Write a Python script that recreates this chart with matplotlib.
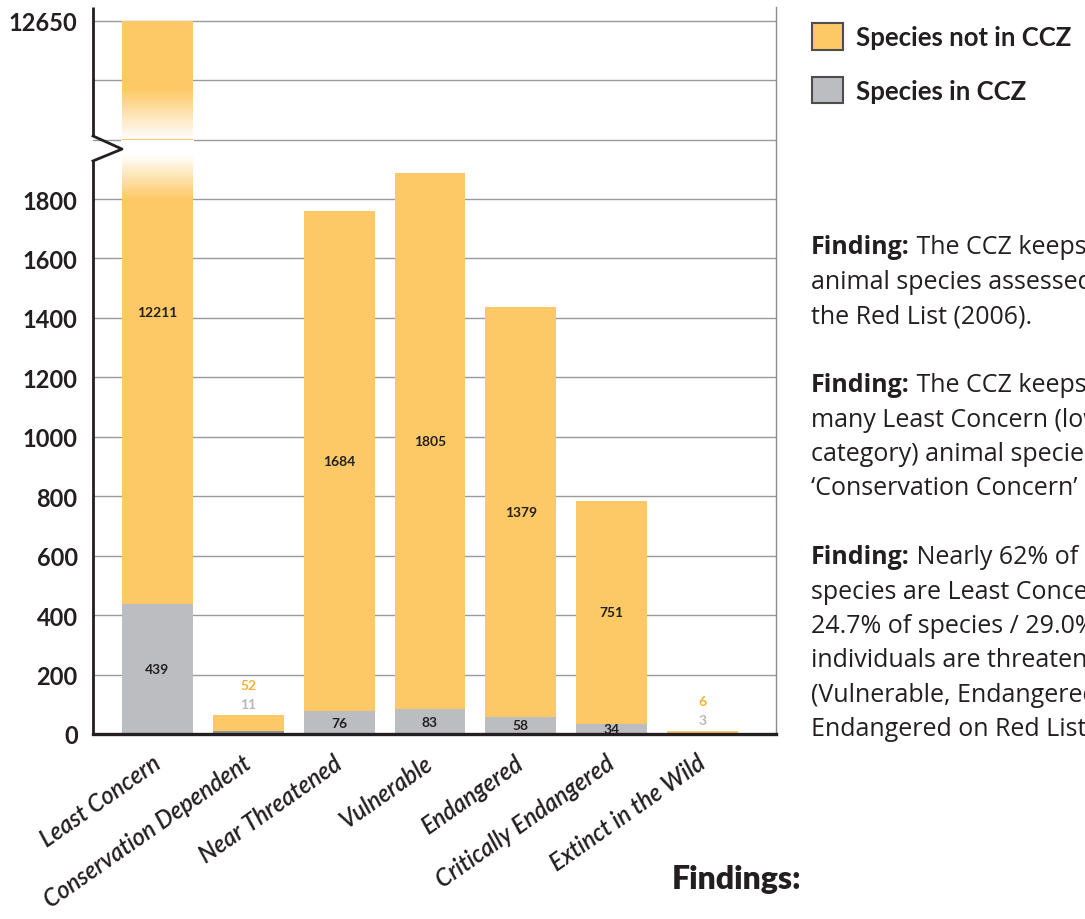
import numpy as np
import matplotlib.pyplot as plt
from matplotlib.patches import Patch
from matplotlib.transforms import ScaledTranslation

# IUCN Red List categories, animal species kept / not kept in the CCZ
categories = ["Least Concern", "Conservation Dependent", "Near Threatened",
              "Vulnerable", "Endangered", "Critically Endangered",
              "Extinct in the Wild"]
in_ccz = [439, 11, 76, 83, 58, 34, 3]
not_in_ccz = [12211, 52, 1684, 1805, 1379, 751, 6]
y_ticks = [0, 200, 400, 600, 800, 1000, 1200, 1400, 1600, 1800, 12650]

finding_heads = ["The CCZ keeps",
                 "The CCZ keeps",
                 "Nearly 62% of"]
finding_rest = [["animal species assessed", "the Red List (2006)."],
                ["many Least Concern (lowest", "category) animal species",
                 "\u2018Conservation Concern\u2019"],
                ["species are Least Concern", "24.7% of species / 29.0%",
                 "individuals are threatened", "(Vulnerable, Endangered,",
                 "Endangered on Red List"]]

orange = "#fdc966"
grey = "#bcbdc1"
dark_grey = "#949598"
txt = "#231f20"

# broken y axis: linear up to 2000, squeezed above so 12650 sits at 2400
BREAK = 2000.0
SQUEEZE = 400.0 / (12650 - BREAK)


def fwd(y):
    y = np.asarray(y, dtype=float)
    return np.where(y <= BREAK, y, BREAK + (y - BREAK) * SQUEEZE)


def inv(t):
    t = np.asarray(t, dtype=float)
    return np.where(t <= BREAK, t, BREAK + (t - BREAK) / SQUEEZE)


plt.rcParams["font.family"] = ["Lato", "DejaVu Sans"]
body = ["Open Sans", "DejaVu Sans"]

fig = plt.figure(figsize=(10.85, 9.2), dpi=100)
ax = fig.add_axes([93 / 1085, 1 - 735 / 920, 683 / 1085, 727 / 920])
ax.set_yscale("function", functions=(fwd, inv))
ax.set_ylim(0, float(inv(2446)))
ax.set_xlim(-0.71, 6.81)

x = np.arange(len(categories))
w = 0.78
low_cols = [grey] * len(categories)
low_cols[1] = dark_grey
ax.bar(x, in_ccz, width=w, color=low_cols, zorder=2)
ax.bar(x, not_in_ccz, width=w, bottom=in_ccz, color=orange, zorder=2)

# fade the tall bar out around the break
n = 40
edges = np.linspace(2002, 2170, n + 1)
for i in range(n):
    a = 1 - (i + 0.5) / n
    lo, hi = inv(edges[i]), inv(edges[i + 1])
    ax.bar(0, hi - lo, bottom=lo, width=0.8, color="white", alpha=a,
           linewidth=0, zorder=3)
edges = np.linspace(1800, 1948, n + 1)
for i in range(n):
    a = (i + 0.5) / n
    lo, hi = edges[i], edges[i + 1]
    ax.bar(0, hi - lo, bottom=lo, width=0.8, color="white", alpha=a,
           linewidth=0, zorder=3)
ax.bar(0, 2002 - 1948, bottom=1948, width=0.8, color="white", linewidth=0,
       zorder=3)

# segment labels
for i in range(len(categories)):
    lo, hi = in_ccz[i], not_in_ccz[i]
    top = lo + hi
    if hi < 100:
        ax.annotate(str(lo), (i, top), xytext=(0, 8), textcoords="offset points",
                    ha="center", va="center", fontsize=10, fontweight="bold",
                    color="#b7b8bb", zorder=5)
        ax.annotate(str(hi), (i, top), xytext=(0, 21.5), textcoords="offset points",
                    ha="center", va="center", fontsize=10, fontweight="bold",
                    color="#f6b331", zorder=5)
        continue
    ax.text(i, float(inv(fwd(lo) / 2)), str(lo), ha="center", va="center",
            fontsize=10, fontweight="bold", color=txt, zorder=5)
    ax.text(i, float(inv((fwd(lo) + fwd(top)) / 2)), str(hi), ha="center",
            va="center", fontsize=10, fontweight="bold", color=txt, zorder=5)

# axes styling
ax.set_yticks(y_ticks)
ax.set_yticklabels([str(v) for v in y_ticks], fontsize=17, fontweight="bold",
                   color=txt)
ax.set_yticks([BREAK, float(inv(2200))], minor=True)
ax.tick_params(axis="y", which="both", length=0, pad=11)
ax.grid(axis="y", which="both", color="#9a9a9a", linewidth=1, zorder=0)
ax.set_axisbelow(True)

ax.set_xticks(x)
ax.set_xticklabels(categories, rotation=35, ha="right", va="top",
                   rotation_mode="anchor", fontsize=17, style="italic",
                   fontweight="semibold", color=txt)
ax.tick_params(axis="x", length=0, pad=12)
shift = ScaledTranslation(-6 / 100, 0, fig.dpi_scale_trans)
for lbl in ax.get_xticklabels():
    lbl.set_transform(lbl.get_transform() + shift)

ax.spines["top"].set_visible(False)
ax.spines["left"].set_visible(False)
ax.spines["right"].set_color("#8a8a8a")
ax.spines["right"].set_linewidth(1)
ax.spines["bottom"].set_color(txt)
ax.spines["bottom"].set_linewidth(2.4)

# left axis line with the zig-zag break
yt = ax.get_yaxis_transform()
ax.plot([0, 0], [0, 1928], color=txt, lw=2, transform=yt, clip_on=False,
        zorder=6, solid_capstyle="butt")
ax.plot([0, 0.0425, 0], [1928, float(inv(1968)), float(inv(2012))], color=txt,
        lw=2, transform=yt, clip_on=False, zorder=6)
ax.plot([0, 0], [float(inv(2012)), float(inv(2446))], color=txt, lw=2,
        transform=yt, clip_on=False, zorder=6, solid_capstyle="butt")

# legend
handles = [Patch(facecolor=orange, edgecolor="#4d4d4d", linewidth=1.5,
                 label="Species not in CCZ"),
           Patch(facecolor=grey, edgecolor="#4d4d4d", linewidth=1.5,
                 label="Species in CCZ")]
leg = fig.legend(handles=handles, loc="upper left",
                 bbox_to_anchor=(812 / 1085, 1 - 24 / 920), frameon=False,
                 prop={"size": 18.5, "weight": "bold"}, handlelength=1.22,
                 handleheight=1.22, handletextpad=0.5, labelspacing=1.05,
                 borderpad=0, borderaxespad=0)
for t in leg.get_texts():
    t.set_color(txt)

# findings text, running off the right-hand edge of the page
step = 34.4 / 920
y = 1 - 248 / 920
for head, rest in zip(finding_heads, finding_rest):
    b = fig.text(811 / 1085, y, "Finding:", fontsize=18, fontweight="bold",
                 family=body, color=txt, va="center")
    ax.annotate(" " + head, xy=(1, 0), xycoords=b, va="bottom", ha="left",
                fontsize=18, family=body, color=txt, annotation_clip=False)
    y -= step
    for line in rest:
        fig.text(811 / 1085, y, line, fontsize=18, family=body, color=txt,
                 va="center")
        y -= step
    y -= step

fig.text(737 / 1085, 1 - 880 / 920, "Findings:", fontsize=23,
         fontweight="heavy", color=txt, ha="center", va="center")

fig.savefig("out.png", dpi=100)
